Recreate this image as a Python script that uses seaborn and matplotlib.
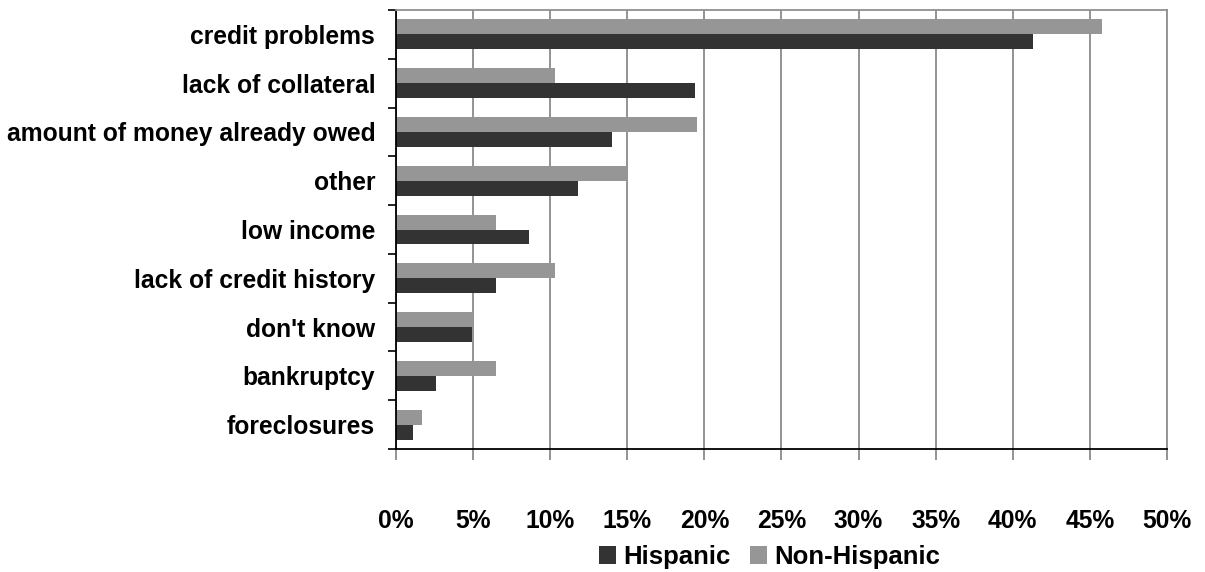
import matplotlib
matplotlib.use("Agg")
import matplotlib.pyplot as plt
import numpy as np
import pandas as pd
import seaborn as sns
from matplotlib.patches import Patch
from matplotlib.ticker import FixedLocator, PercentFormatter

# Reasons given for being turned down for credit
reasons = [
    "credit problems",
    "lack of collateral",
    "amount of money already owed",
    "other",
    "low income",
    "lack of credit history",
    "don't know",
    "bankruptcy",
    "foreclosures",
]
hispanic = [41.3, 19.4, 14.0, 11.8, 8.6, 6.5, 4.9, 2.6, 1.1]
non_hispanic = [45.8, 10.3, 19.5, 15.0, 6.5, 10.3, 4.9, 6.5, 1.7]

groups = ["Hispanic", "Non-Hispanic"]
colors = {"Hispanic": "#333333", "Non-Hispanic": "#969696"}

df = pd.DataFrame({
    "reason": reasons * 2,
    "group": ["Hispanic"] * len(reasons) + ["Non-Hispanic"] * len(reasons),
    "share": hispanic + non_hispanic,
})

sns.set_theme(style="white")
plt.rcParams["font.family"] = ["Liberation Sans", "DejaVu Sans"]
plt.rcParams["font.weight"] = "bold"
plt.rcParams["text.color"] = "black"
plt.rcParams["xtick.color"] = "black"
plt.rcParams["ytick.color"] = "black"

fig = plt.figure(figsize=(12.05, 5.72), dpi=100)
ax = fig.add_axes([396 / 1205, 1 - 449 / 572, (1167 - 396) / 1205, (449 - 10) / 572])

sns.barplot(
    data=df, y="reason", x="share", hue="group",
    order=reasons, hue_order=["Non-Hispanic", "Hispanic"],
    palette=colors, orient="h", width=0.615, saturation=1,
    edgecolor="none", linewidth=0, ax=ax, legend=False,
)

ax.set_xlim(0, 50)
ax.set_ylim(len(reasons) - 0.5, -0.5)
ax.xaxis.set_major_locator(FixedLocator(np.arange(0, 51, 5)))
ax.xaxis.set_major_formatter(PercentFormatter(decimals=0))
ax.grid(axis="x", color="#808080", linewidth=1.2)
ax.set_axisbelow(True)

# category boundaries carry the tick marks, labels sit at the centres
ax.yaxis.set_minor_locator(FixedLocator(np.arange(-0.5, len(reasons), 1)))
ax.tick_params(axis="y", which="major", length=0, pad=15, labelsize=17.7,
               labelcolor="black")
ax.tick_params(axis="y", which="minor", length=6, width=1.2, color="black", left=True)
ax.tick_params(axis="x", which="major", length=8, width=1.2, color="#808080",
               bottom=True, pad=35, labelsize=17.7, labelcolor="black")
for lbl in ax.get_xticklabels() + ax.get_yticklabels():
    lbl.set_fontweight("bold")

ax.set_xlabel("")
ax.set_ylabel("")

for side in ("left", "bottom"):
    ax.spines[side].set_color("black")
    ax.spines[side].set_linewidth(1.3)
for side in ("top", "right"):
    ax.spines[side].set_color("#909090")
    ax.spines[side].set_linewidth(1.3)

handles = [Patch(facecolor=colors[g], edgecolor="none", label=g) for g in groups]
fig.legend(
    handles=handles, loc="center", bbox_to_anchor=(769.5 / 1205, 1 - 557 / 572),
    ncol=2, frameon=False, handlelength=0.66, handleheight=0.66,
    handletextpad=0.27, columnspacing=0.78, borderpad=0.2,
    prop={"family": "Liberation Sans", "weight": "bold", "size": 18.5},
    labelcolor="black",
)

fig.savefig("out.png", dpi=100)
